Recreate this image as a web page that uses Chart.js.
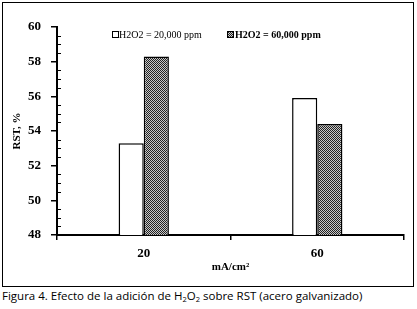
<!DOCTYPE html>
<html>
<head>
<meta charset="utf-8">
<script src="https://cdn.jsdelivr.net/npm/chart.js@4"></script>
<style>
  body { margin: 0; background: #fff; width: 417px; height: 309px; position: relative; overflow: hidden; }
  #marco { position: absolute; left: 2px; top: 2px; width: 410px; height: 283px; border: 1px solid #000; }
  #pie { position: absolute; left: 2px; top: 288px; font: 11.5px "Open Sans", sans-serif; color: #000; white-space: nowrap; }
  #pie sub { font-size: 7.5px; vertical-align: -2px; }
</style>
</head>
<body>
<div id="marco"><canvas id="grafica" width="410" height="283"></canvas></div>
<div id="pie">Figura 4. Efecto de la adición de H<sub>2</sub>O<sub>2</sub> sobre RST (acero galvanizado)</div>
<script>
/* Datos */
var categorias = ['20', '60'];
var serie20000 = [53.3, 55.9];
var serie60000 = [58.3, 54.4];
var nombres = ['H2O2 = 20,000 ppm', 'H2O2 = 60,000 ppm'];
var yMin = 48, yMax = 60;

// trama gris del segundo grupo
function trama() {
  var c = document.createElement('canvas');
  c.width = 2; c.height = 2;
  var g = c.getContext('2d');
  g.fillStyle = '#c8c8c8';
  g.fillRect(0, 0, 2, 2);
  g.fillStyle = '#222';
  g.fillRect(0, 0, 1, 1);
  g.fillRect(1, 1, 1, 1);
  return g.createPattern(c, 'repeat');
}
var patron = trama();

// leyenda y marcas menores
var extras = {
  id: 'extras',
  afterDraw: function(chart) {
    var ctx = chart.ctx;
    var y = chart.scales.y;
    ctx.save();
    ctx.strokeStyle = '#000';
    ctx.lineWidth = 1;
    for (var v = yMin; v <= yMax; v += 0.5) {
      if (v % 2 === 0) continue;
      var py = Math.round(y.getPixelForValue(v)) + 0.5;
      ctx.beginPath();
      ctx.moveTo(y.right, py);
      ctx.lineTo(y.right + 4, py);
      ctx.stroke();
    }
    // leyenda
    ctx.textBaseline = 'middle';
    ctx.fillStyle = '#000';
    ctx.strokeRect(109.5, 28.5, 6, 6);
    ctx.font = '10px "Liberation Serif", serif';
    ctx.fillText(nombres[0], 116, 32);
    ctx.fillStyle = patron;
    ctx.fillRect(224, 28, 7, 7);
    ctx.strokeRect(224.5, 28.5, 6, 6);
    ctx.fillStyle = '#000';
    ctx.font = 'bold 10px "Liberation Serif", serif';
    ctx.fillText(nombres[1], 232, 32);
    ctx.restore();
  }
};

const grafica = new Chart(document.getElementById('grafica'), {
  type: 'bar',
  data: {
    labels: categorias,
    datasets: [{
      label: nombres[0],
      data: serie20000,
      backgroundColor: '#fff',
      borderColor: '#000',
      borderWidth: 1.5
    }, {
      label: nombres[1],
      data: serie60000,
      backgroundColor: patron,
      borderColor: '#000',
      borderWidth: 1.5
    }]
  },
  options: {
    responsive: false,
    devicePixelRatio: 1,
    animation: false,
    layout: { padding: { top: 24, right: 9, left: 0, bottom: 0 } },
    datasets: { bar: { categoryPercentage: 0.29, barPercentage: 1 } },
    plugins: {
      legend: { display: false },
      tooltip: { enabled: false }
    },
    scales: {
      x: {
        afterFit: function(s) { s.height = 51; },
        border: { color: '#000', width: 2 },
        grid: { drawOnChartArea: false, color: '#000', tickLength: 5, lineWidth: 1.5 },
        ticks: { color: '#000', padding: 6, font: { family: '"Liberation Serif", serif', size: 13, weight: 'bold' } },
        title: {
          display: true,
          text: 'mA/cm²',
          color: '#000',
          padding: { top: 0, bottom: 12 },
          font: { family: '"Liberation Serif", serif', size: 11, weight: 'bold' }
        }
      },
      y: {
        min: yMin,
        max: yMax,
        afterFit: function(s) { s.width = 54; },
        border: { color: '#000', width: 2 },
        grid: { drawOnChartArea: false, color: '#000', tickLength: 6, lineWidth: 1.5 },
        ticks: { stepSize: 2, color: '#000', padding: 10, font: { family: '"Liberation Serif", serif', size: 13, weight: 'bold' } },
        title: {
          display: true,
          text: 'RST, %',
          color: '#000',
          padding: { top: 8, bottom: 0 },
          font: { family: '"Liberation Serif", serif', size: 11, weight: 'bold' }
        }
      }
    }
  },
  plugins: [extras]
});
</script>
</body>
</html>
